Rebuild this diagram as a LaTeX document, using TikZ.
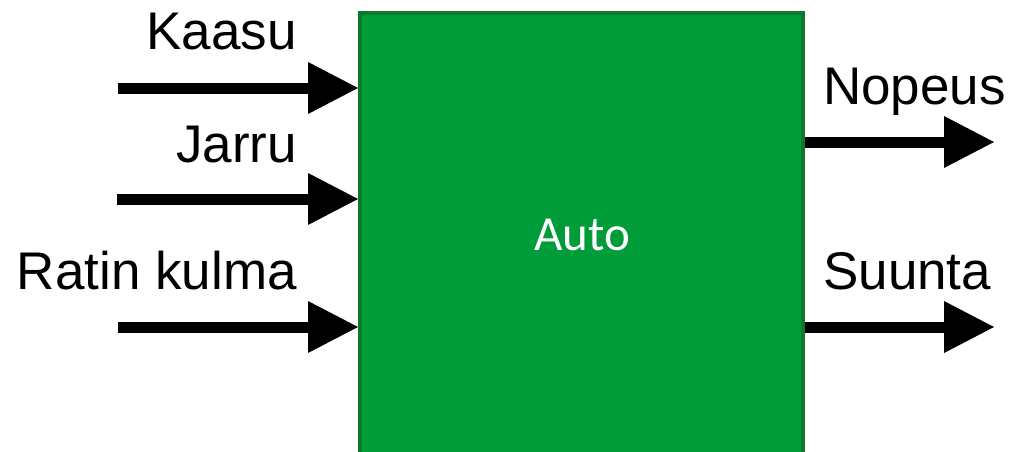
\documentclass[tikz,border=0pt]{standalone}
\usepackage{fontspec}
\setmainfont{Liberation Sans}
\newfontfamily\autofont{Carlito}
\usetikzlibrary{arrows.meta}
\definecolor{boxfill}{RGB}{0,156,58}
\definecolor{boxline}{RGB}{12,122,44}
\tikzset{
  lbl/.style={inner sep=0pt, font=\fontsize{53}{60}\selectfont, text=black},
  sig/.style={line width=11pt, draw=black,
    -{Triangle[length=50pt 0 0, width=52pt 0 0, line width=0pt]}},
  block/.style={draw=boxline, fill=boxfill, line width=4pt, inner sep=0pt}
}
\begin{document}
\begin{tikzpicture}[x=1pt, y=-1pt]
\useasboundingbox (0,0) rectangle (1011,452);
\clip (0,0) rectangle (1011,452);
\node[block, minimum width=443pt, minimum height=457pt, anchor=north west] (box) at (358,11) {};
\node[inner sep=0pt, anchor=base, text=white, font=\autofont\fontsize{49}{55}\selectfont] (autotxt) at (582,250) {Auto};
% inputs
\coordinate (k0) at (118,88);
\coordinate (j0) at (117,199);
\coordinate (r0) at (118,327);
\draw[sig] (k0) -- (k0 -| box.west);
\draw[sig] (j0) -- (j0 -| box.west);
\draw[sig] (r0) -- (r0 -| box.west);
% outputs
\coordinate (n1) at (994,142);
\coordinate (s1) at (994,327);
\draw[sig] (n1 -| box.east) -- (n1);
\draw[sig] (s1 -| box.east) -- (s1);
% labels
\node[lbl, anchor=base east] (kaasu) at (297,50) {Kaasu};
\node[lbl, anchor=base east] (jarru) at (297,162) {Jarru};
\node[lbl, anchor=base east] (ratin) at (297,289) {Ratin kulma};
\node[lbl, anchor=base west] (nopeus) at (823,104) {Nopeus};
\node[lbl, anchor=base west] (suunta) at (823,289) {Suunta};
\end{tikzpicture}
\end{document}
